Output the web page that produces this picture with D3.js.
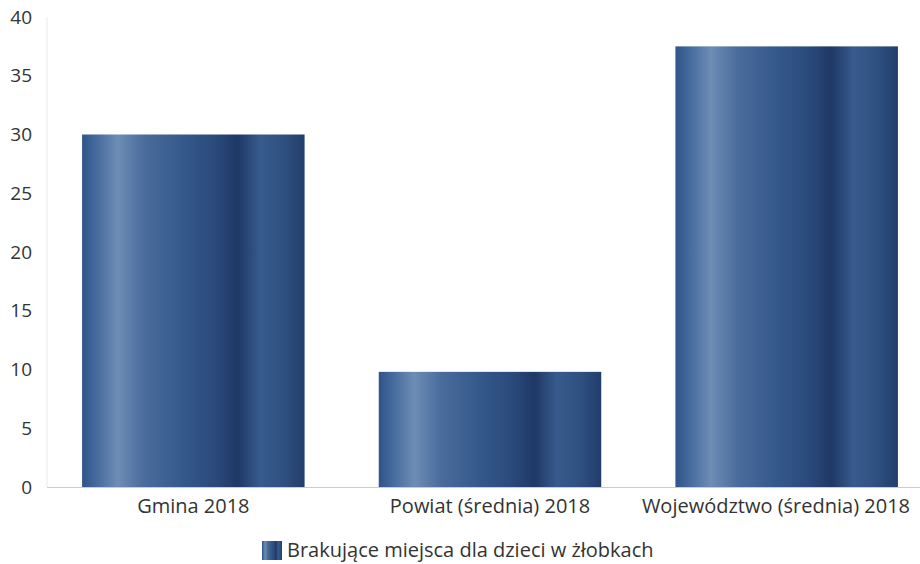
<!DOCTYPE html>
<html><head><meta charset="utf-8">
<script src="https://cdn.jsdelivr.net/npm/d3@7/dist/d3.min.js"></script>
<style>
html,body{margin:0;padding:0;background:#fff;}
svg{display:block;font-family:"Open Sans",sans-serif;}
</style></head>
<body>
<svg id="chart" width="920" height="564"></svg>
<script>
const categories = ["Gmina 2018", "Powiat (średnia) 2018", "Województwo (średnia) 2018"];
const values = [30, 9.8, 37.5];
const yTicks = [0, 5, 10, 15, 20, 25, 30, 35, 40];
const seriesName = "Brakujące miejsca dla dzieci w żłobkach";

const svg = d3.select("#chart");
const defs = svg.append("defs");
const grad = defs.append("linearGradient").attr("id","barGrad").attr("x1","0%").attr("x2","100%").attr("y1","0%").attr("y2","0%");
[[0,"#30548a"],[0.06,"#44699b"],[0.16,"#6d8db5"],[0.28,"#4a6c9c"],[0.45,"#35598b"],[0.6,"#2a4a7b"],[0.7,"#1f3866"],[0.8,"#375b8c"],[0.9,"#2f5182"],[1,"#223d6a"]]
  .forEach(([o,c])=>grad.append("stop").attr("offset",o).attr("stop-color",c));

const x = d3.scaleBand().domain(categories).range([45, 935]).paddingInner(0.25).paddingOuter(0.125);
const y = d3.scaleLinear().domain([0, 40]).range([487, 17]);

// faint y axis line
svg.append("line").attr("x1",47).attr("x2",47).attr("y1",y(40)).attr("y2",y(0))
  .attr("stroke","#e6e9f0").attr("stroke-width",1);

// bars
svg.selectAll("rect.bar").data(values).enter().append("rect")
  .attr("class","bar")
  .attr("x",(d,i)=>x(categories[i]))
  .attr("width",x.bandwidth())
  .attr("y",d=>y(d))
  .attr("height",d=>y(0)-y(d))
  .attr("fill","url(#barGrad)");

// baseline
svg.append("line").attr("x1",47).attr("x2",920).attr("y1",y(0)+0.5).attr("y2",y(0)+0.5)
  .attr("stroke","#c5cbdc").attr("stroke-width",1);

// y axis
const yAxis = d3.axisLeft(y).tickValues(yTicks).tickSize(0).tickPadding(15);
const ga = svg.append("g").attr("transform","translate(47,0)").call(yAxis);
ga.select(".domain").remove();
ga.selectAll("text").attr("font-size",19).attr("fill","#333").attr("font-family","'Open Sans',sans-serif");

// x axis
const xAxis = d3.axisBottom(x).tickSize(0).tickPadding(12);
const gx = svg.append("g").attr("transform",`translate(0,${y(0)})`).call(xAxis);
gx.select(".domain").remove();
gx.selectAll("text").attr("font-size",20).attr("fill","#333").attr("font-family","'Open Sans',sans-serif");
gx.selectAll(".tick").filter((d,i)=>i===2).select("text").attr("text-anchor","end").attr("x", 910 - x(categories[2]) - x.bandwidth()/2);

// legend
const lg = svg.append("g").attr("transform","translate(262,541)");
lg.append("rect").attr("width",20).attr("height",19).attr("fill","url(#barGrad)");
lg.append("text").attr("x",25).attr("y",16).attr("font-size",20).attr("fill","#333").text(seriesName);
</script>
</body></html>
